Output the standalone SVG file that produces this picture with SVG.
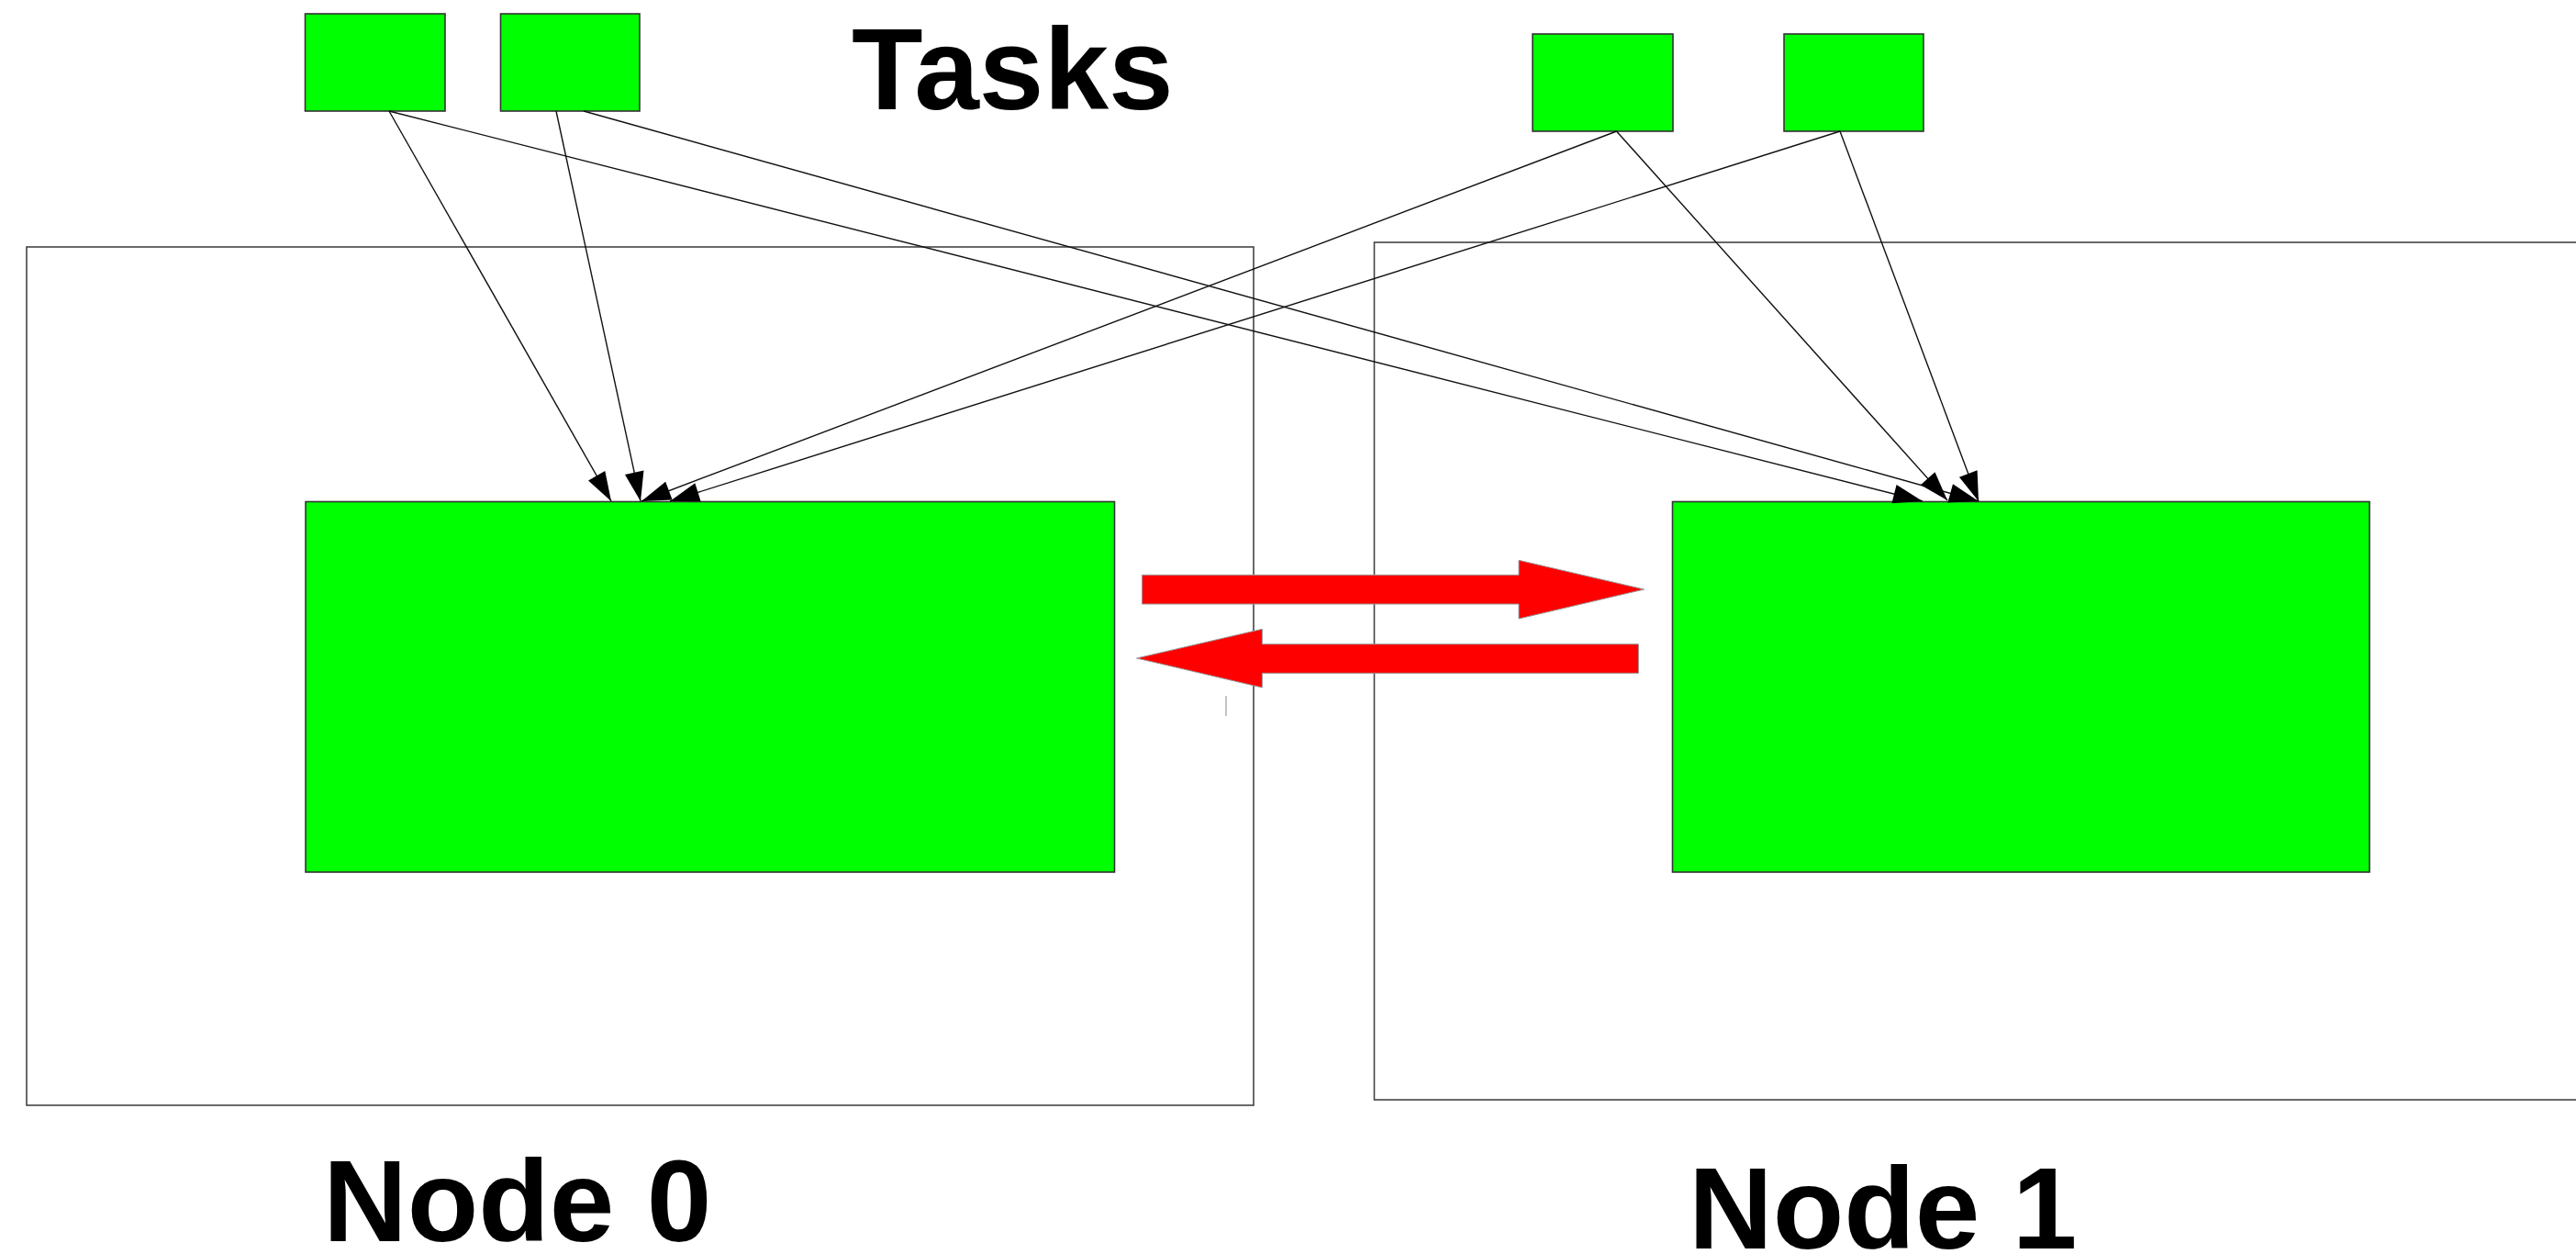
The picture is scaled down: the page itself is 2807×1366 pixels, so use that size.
<svg xmlns="http://www.w3.org/2000/svg" width="2807" height="1366" viewBox="0 0 2807 1366">
<style>
  .frame { fill: #ffffff; stroke: #444444; stroke-width: 1.6; }
  .green { fill: #00ff00; stroke: #333333; stroke-width: 1.6; }
  .conn { stroke: #111111; stroke-width: 1.4; fill: none; marker-end: url(#ah); }
  .red { fill: #ff0000; stroke: #999999; stroke-width: 1; }
  .lbl { font-family: "Liberation Sans", Arial, sans-serif; font-weight: bold; font-size: 127px; fill: #000000; }
</style>
<defs>
  <marker id="ah" markerUnits="userSpaceOnUse" markerWidth="34" markerHeight="23" refX="32" refY="10.5" orient="auto" overflow="visible">
    <path d="M0,0 L32,10.5 L0,21 Z" fill="#000000"/>
  </marker>
</defs>
<rect width="2807" height="1366" fill="#ffffff"/>

<g id="node0">
  <rect class="frame" x="29" y="269" width="1337" height="935"/>
  <rect class="green" x="333" y="546.5" width="881.5" height="403.5"/>
  <text class="lbl" x="352" y="1352">Node 0</text>
</g>
<g id="node1">
  <rect class="frame" x="1497.5" y="264" width="1400" height="934"/>
  <rect class="green" x="1822.5" y="546.5" width="759.5" height="403.5"/>
  <text class="lbl" x="1840" y="1360">Node 1</text>
</g>
<g id="task1"><rect class="green" x="332.5" y="15" width="152.5" height="106"/></g>
<g id="task2"><rect class="green" x="545.5" y="15" width="151.5" height="106"/></g>
<g id="task3"><rect class="green" x="1670" y="37" width="153" height="106"/></g>
<g id="task4"><rect class="green" x="1944" y="37" width="152" height="106"/></g>
<g id="tasks-label"><text class="lbl" x="928" y="119">Tasks</text></g>

<g id="connectors">
  <line class="conn" x1="424" y1="121" x2="666" y2="546"/>
  <line class="conn" x1="424" y1="121" x2="2095" y2="546"/>
  <line class="conn" x1="606" y1="121" x2="698" y2="546"/>
  <line class="conn" x1="636" y1="121" x2="2156" y2="546"/>
  <line class="conn" x1="1761.5" y1="143" x2="699" y2="546"/>
  <line class="conn" x1="1761.5" y1="143" x2="2122" y2="545"/>
  <line class="conn" x1="2005" y1="143" x2="730" y2="546"/>
  <line class="conn" x1="2005" y1="143" x2="2156" y2="546"/>
  <path class="red" d="M1244.4,626.3 L1655,626.3 L1655,610.3 L1791.6,642 L1655,674 L1655,658 L1244.4,658 Z"/>
  <path class="red" d="M1238.6,717 L1375.4,685.3 L1375.4,701.7 L1785.4,701.7 L1785.4,733.3 L1375.4,733.3 L1375.4,749 Z"/>
</g>
<line x1="1336" y1="758" x2="1336" y2="780" stroke="#888888" stroke-width="1"/>
</svg>
